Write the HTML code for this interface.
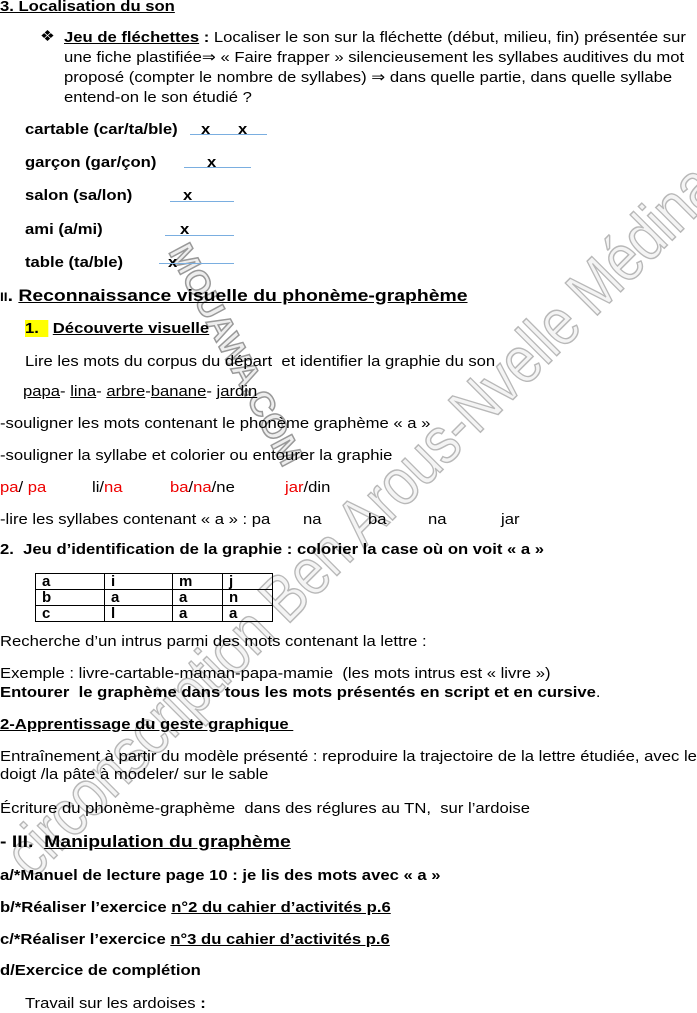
<!DOCTYPE html>
<html><head><meta charset="utf-8"><style>
body{margin:0;width:697px;height:1010px;position:relative;overflow:hidden;background:#fff;font-family:"Liberation Sans",sans-serif;font-size:15px;color:#000}
.l{position:absolute;white-space:nowrap;line-height:18px;transform:scaleX(1.11);transform-origin:0 0}
b{font-weight:bold}
u{text-decoration:underline}
.r{color:#e00}
.bl{position:absolute;height:0;border-top:1.5px solid #7aaee0}
table{position:absolute;left:35px;top:573px;border-collapse:collapse;font-weight:bold;font-size:15px}
td{border:1px solid #000;height:15px;padding:0 6px;line-height:15px}
.wm{position:absolute;left:360px;top:520px;transform:translate(-50%,-50%) rotate(-45deg) scaleX(0.85);font-size:66px;color:#f4f4f4;-webkit-text-stroke:1.5px #b8b8b8;white-space:nowrap;letter-spacing:-1px}
.wm2{position:absolute;left:235px;top:355px;transform:translate(-50%,-50%) rotate(62deg);font-size:34px;font-weight:bold;color:#eee;-webkit-text-stroke:1.5px #999;white-space:nowrap}
</style></head><body>
<div class="wm">circonscription Ben Arous-Nvelle Médina</div>
<div class="wm2">MOUAWA.COM</div>
<div class="l" style="left:0;top:-2px"><b><u>3. Localisation du son</u></b></div>
<div class="l" style="left:40px;top:28px">❖</div>
<div class="l" style="left:64px;top:28px;line-height:20px"><b><u>Jeu de fléchettes</u> :</b> Localiser le son sur la fléchette (début, milieu, fin) présentée sur<br>une fiche plastifiée⇒ « Faire frapper » silencieusement les syllabes auditives du mot<br>proposé (compter le nombre de syllabes) ⇒ dans quelle partie, dans quelle syllabe<br>entend-on le son étudié ?</div>
<div class="l" style="left:25px;top:121px"><b>cartable (car/ta/ble)</b></div><div class="l" style="left:201px;top:121px"><b>x</b></div><div class="l" style="left:238px;top:121px"><b>x</b></div><div class="bl" style="left:190px;top:134px;width:77px"></div>
<div class="l" style="left:25px;top:154px"><b>garçon (gar/çon)</b></div><div class="l" style="left:207px;top:154px"><b>x</b></div><div class="bl" style="left:184px;top:167px;width:67px"></div>
<div class="l" style="left:25px;top:187px"><b>salon (sa/lon)</b></div><div class="l" style="left:183px;top:187px"><b>x</b></div><div class="bl" style="left:170px;top:201px;width:64px"></div>
<div class="l" style="left:25px;top:221px"><b>ami (a/mi)</b></div><div class="l" style="left:180px;top:221px"><b>x</b></div><div class="bl" style="left:165px;top:235px;width:69px"></div>
<div class="l" style="left:25px;top:254px"><b>table (ta/ble)</b></div><div class="l" style="left:168px;top:254px"><b>x</b></div><div class="bl" style="left:159px;top:263px;width:75px"></div>
<div class="l" style="left:0;top:287px;font-size:17px;transform:scaleX(1.14)"><b><span style="font-size:12px">II</span>. <u>Reconnaissance visuelle du phonème-graphème</u></b></div>
<div class="l" style="left:25px;top:320px"><b><span style="background:#ff0">1.&nbsp;&nbsp;</span> <u>Découverte visuelle</u></b></div>
<div class="l" style="left:25px;top:353px">Lire les mots du corpus du départ&nbsp; et identifier la graphie du son</div>
<div class="l" style="left:23px;top:383px"><u>papa</u>- <u>lina</u>- <u>arbre</u>-<u>banane</u>- <u>jardin</u></div>
<div class="l" style="left:0;top:415px">-souligner les mots contenant le phonème graphème « a »</div>
<div class="l" style="left:0;top:447px">-souligner la syllabe et colorier ou entourer la graphie</div>
<div class="l" style="left:0;top:479px"><span class="r">pa</span>/ <span class="r">pa</span></div>
<div class="l" style="left:92px;top:479px">li/<span class="r">na</span></div>
<div class="l" style="left:170px;top:479px"><span class="r">ba</span>/<span class="r">na</span>/ne</div>
<div class="l" style="left:285px;top:479px"><span class="r">jar</span>/din</div>
<div class="l" style="left:0;top:511px">-lire les syllabes contenant « a » : pa</div>
<div class="l" style="left:303px;top:511px">na</div><div class="l" style="left:368px;top:511px">ba</div><div class="l" style="left:428px;top:511px">na</div><div class="l" style="left:501px;top:511px">jar</div>
<div class="l" style="left:0;top:541px"><b>2.&nbsp; Jeu d’identification de la graphie : colorier la case où on voit « a »</b></div>
<table><tr><td style="width:56px">a</td><td style="width:55px">i</td><td style="width:37px">m</td><td style="width:37px">j</td></tr><tr><td>b</td><td>a</td><td>a</td><td>n</td></tr><tr><td>c</td><td>l</td><td>a</td><td>a</td></tr></table>
<div class="l" style="left:0;top:633px">Recherche d’un intrus parmi des mots contenant la lettre :</div>
<div class="l" style="left:0;top:665px">Exemple : livre-cartable-maman-papa-mamie&nbsp; (les mots intrus est « livre »)</div>
<div class="l" style="left:0;top:684px"><b>Entourer&nbsp; le graphème dans tous les mots présentés en script et en cursive</b>.</div>
<div class="l" style="left:0;top:716px"><b><u>2-Apprentissage du geste graphique&nbsp;</u></b></div>
<div class="l" style="left:0;top:748px">Entraînement à partir du modèle présenté : reproduire la trajectoire de la lettre étudiée, avec le</div>
<div class="l" style="left:0;top:766px">doigt /la pâte à modeler/ sur le sable</div>
<div class="l" style="left:0;top:800px">Écriture du phonème-graphème&nbsp; dans des réglures au TN,&nbsp; sur l’ardoise</div>
<div class="l" style="left:0;top:831px;font-size:17px;line-height:22px;transform:scaleX(1.14)"><b>- III.&nbsp; <u>Manipulation du graphème</u></b></div>
<div class="l" style="left:0;top:867px"><b>a/*Manuel de lecture page 10 : je lis des mots avec « a »</b></div>
<div class="l" style="left:0;top:899px"><b>b/*Réaliser l’exercice <u>n°2 du cahier d’activités p.6</u></b></div>
<div class="l" style="left:0;top:931px"><b>c/*Réaliser l’exercice <u>n°3 du cahier d’activités p.6</u></b></div>
<div class="l" style="left:0;top:962px"><b>d/Exercice de complétion</b></div>
<div class="l" style="left:25px;top:995px">Travail sur les ardoises <b>:</b></div>
</body></html>
